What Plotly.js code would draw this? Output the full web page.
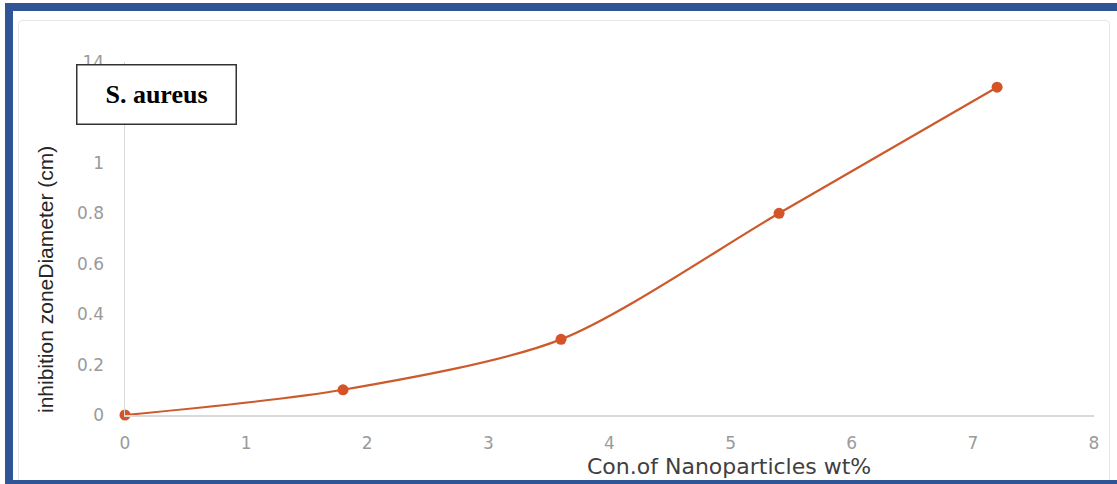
<!DOCTYPE html>
<html>
<head>
<meta charset="utf-8">
<script src="https://cdn.plot.ly/plotly-3.0.1.min.js"></script>
<style>
html,body{margin:0;padding:0;background:#fff;}
#wrap{position:relative;width:1117px;height:484px;overflow:hidden;}
#chart{position:absolute;left:0;top:0;width:1117px;height:484px;}
#frame{position:absolute;left:5px;top:3px;width:1130px;height:469px;border:8px solid #2f5597;pointer-events:none;}
#inner{position:absolute;left:18px;top:20px;width:1090px;height:500px;border:1px solid #e6e6e6;border-radius:4px;pointer-events:none;}
</style>
</head>
<body>
<div id="wrap">
<div id="inner"></div>
<div id="chart"></div>
<div id="frame"></div>
</div>
<script>
const conc = [0, 1.8, 3.6, 5.4, 7.2];
const diameter = [0, 0.1, 0.3, 0.8, 1.3];
const yTickVals = [0, 0.2, 0.4, 0.6, 0.8, 1, 1.2, 1.4];
const yTickText = ['0', '0.2', '0.4', '0.6', '0.8', '1', '1.2', '14'];
const xTickVals = [0, 1, 2, 3, 4, 5, 6, 7, 8];
const xTitle = 'Con.of Nanoparticles wt%';
const yTitle = 'inhibition zoneDiameter (cm)';
const legendText = 'S. aureus';

const trace = {
  x: conc, y: diameter, type: 'scatter', mode: 'lines+markers',
  line: {shape: 'spline', smoothing: 0.8, color: '#cc5a2c', width: 2.2},
  marker: {color: '#d55427', size: 11},
  cliponaxis: false, showlegend: false
};
const tickFont = {family: 'DejaVu Sans, sans-serif', size: 17, color: '#9a9a9a'};
const layout = {
  width: 1117, height: 484,
  margin: {l: 125, r: 23, t: 62, b: 69},
  paper_bgcolor: 'rgba(0,0,0,0)', plot_bgcolor: 'rgba(0,0,0,0)',
  font: {family: 'DejaVu Sans, sans-serif', color: '#8c8c8c', size: 17},
  xaxis: {
    range: [0, 8], tickvals: xTickVals, showgrid: false, zeroline: false,
    showline: true, linecolor: '#d9d9d9', linewidth: 1.5,
    ticks: 'outside', ticklen: 12, tickcolor: 'rgba(0,0,0,0)',
    tickfont: tickFont
  },
  yaxis: {
    range: [0, 1.4], tickvals: yTickVals, ticktext: yTickText, showgrid: false, zeroline: false,
    showline: true, linecolor: '#d9d9d9', linewidth: 1.5,
    ticks: 'outside', ticklen: 16, tickcolor: 'rgba(0,0,0,0)',
    tickfont: tickFont
  },
  annotations: [
    {
      xref: 'paper', yref: 'paper', x: (729 - 125) / 969, y: (415 - 466) / 353,
      xanchor: 'center', yanchor: 'middle', showarrow: false,
      text: xTitle,
      font: {family: 'DejaVu Sans, sans-serif', size: 22, color: '#404040'}
    },
    {
      xref: 'paper', yref: 'paper', x: (45 - 125) / 969, y: (415 - 280) / 353,
      xanchor: 'center', yanchor: 'middle', showarrow: false, textangle: -90,
      text: yTitle,
      font: {family: 'Liberation Sans, Arial, sans-serif', size: 21, color: '#262626'}
    },
    {
      xref: 'paper', yref: 'paper', x: (76 - 125) / 969, y: (415 - 64) / 353,
      xanchor: 'left', yanchor: 'top', showarrow: false, align: 'center',
      text: '<b>' + legendText + '</b>',
      font: {family: 'Liberation Serif, Times New Roman, serif', size: 26, color: '#000'},
      bgcolor: '#ffffff', bordercolor: '#333', borderwidth: 1.5,
      width: 156, height: 56, borderpad: 1
    }
  ]
};
Plotly.newPlot('chart', [trace], layout, {displayModeBar: false, staticPlot: true});
</script>
</body>
</html>
